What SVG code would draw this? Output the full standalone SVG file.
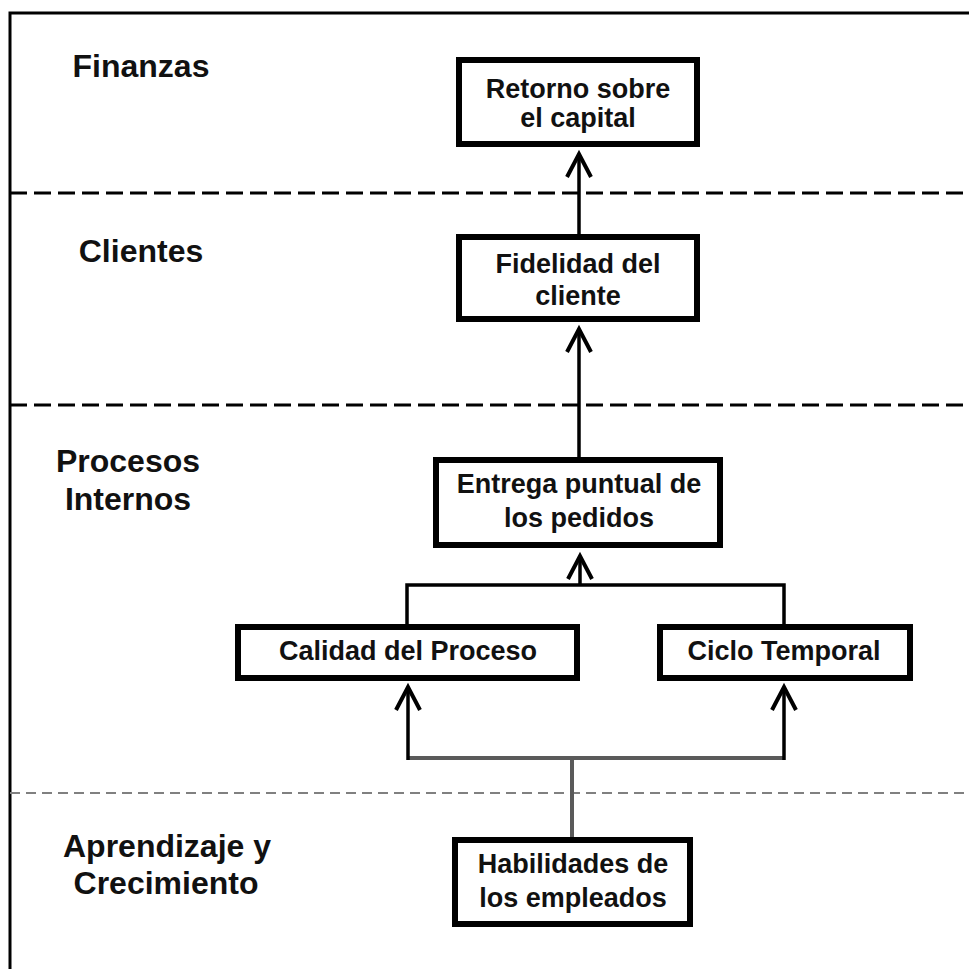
<svg xmlns="http://www.w3.org/2000/svg" width="969" height="969" viewBox="0 0 969 969">
<style>
.frame{fill:none;stroke:#000;stroke-width:3}
.sep{fill:none;stroke:#000;stroke-width:3;stroke-dasharray:17 7}
.sep2{fill:none;stroke:#808080;stroke-width:2;stroke-dasharray:10 6}
.box{fill:#fff;stroke:#000;stroke-width:6}
.lbl{font-family:"Liberation Sans",Arial,sans-serif;font-weight:bold;font-size:32px;fill:#111;text-anchor:middle}
.txt{font-family:"Liberation Sans",Arial,sans-serif;font-weight:bold;font-size:27px;fill:#111;text-anchor:middle}
.conn{fill:none;stroke:#000;stroke-width:3.5}
.conng{fill:none;stroke:#5a5a5a;stroke-width:4}
</style>
<defs>
<marker id="arr" markerUnits="userSpaceOnUse" markerWidth="34" markerHeight="30" viewBox="0 0 34 30" refX="25" refY="14" orient="auto" overflow="visible">
<path d="M3,2 L26,14 L3,26" fill="none" stroke="#000" stroke-width="4"/>
</marker>
</defs>
<rect x="0" y="0" width="969" height="969" fill="#fff"/>
<g id="frame">
<path class="frame" d="M10,969 V13 H969"/>
<line class="sep" x1="10" y1="193" x2="969" y2="193"/>
<line class="sep" x1="10" y1="405" x2="969" y2="405"/>
<line class="sep2" x1="10" y1="793" x2="969" y2="793"/>
</g>
<g id="lanes">
<text class="lbl" x="141" y="77">Finanzas</text>
<text class="lbl" x="141" y="262">Clientes</text>
<text class="lbl" x="128" y="472">Procesos</text>
<text class="lbl" x="128" y="510">Internos</text>
<text class="lbl" x="167" y="857">Aprendizaje y</text>
<text class="lbl" x="166" y="894">Crecimiento</text>
</g>
<g id="connectors">
<line class="conn" x1="579" y1="234" x2="579" y2="155" marker-end="url(#arr)"/>
<line class="conn" x1="579" y1="457" x2="579" y2="330" marker-end="url(#arr)"/>
<path class="conn" d="M407,624 V585 H784 V624"/>
<line class="conn" x1="580" y1="585" x2="580" y2="557" marker-end="url(#arr)"/>
<path class="conng" d="M572,837 V758"/>
<path class="conng" d="M408,758 H784"/>
<line class="conn" x1="408" y1="760" x2="408" y2="688" marker-end="url(#arr)"/>
<line class="conn" x1="784" y1="760" x2="784" y2="688" marker-end="url(#arr)"/>
</g>
<g id="retorno">
<rect class="box" x="459" y="60" width="238" height="84"/>
<text class="txt" x="578" y="98">Retorno sobre</text>
<text class="txt" x="578" y="127">el capital</text>
</g>
<g id="fidelidad">
<rect class="box" x="459" y="237" width="238" height="82"/>
<text class="txt" x="578" y="273">Fidelidad del</text>
<text class="txt" x="578" y="305">cliente</text>
</g>
<g id="entrega">
<rect class="box" x="436" y="460" width="284" height="85"/>
<text class="txt" x="579" y="493">Entrega puntual de</text>
<text class="txt" x="579" y="527">los pedidos</text>
</g>
<g id="calidad">
<rect class="box" x="238" y="627" width="339" height="51"/>
<text class="txt" x="408" y="660">Calidad del Proceso</text>
</g>
<g id="ciclo">
<rect class="box" x="660" y="627" width="250" height="51"/>
<text class="txt" x="784" y="660">Ciclo Temporal</text>
</g>
<g id="habilidades">
<rect class="box" x="455" y="840" width="235" height="84"/>
<text class="txt" x="573" y="873">Habilidades de</text>
<text class="txt" x="573" y="907">los empleados</text>
</g>
</svg>
